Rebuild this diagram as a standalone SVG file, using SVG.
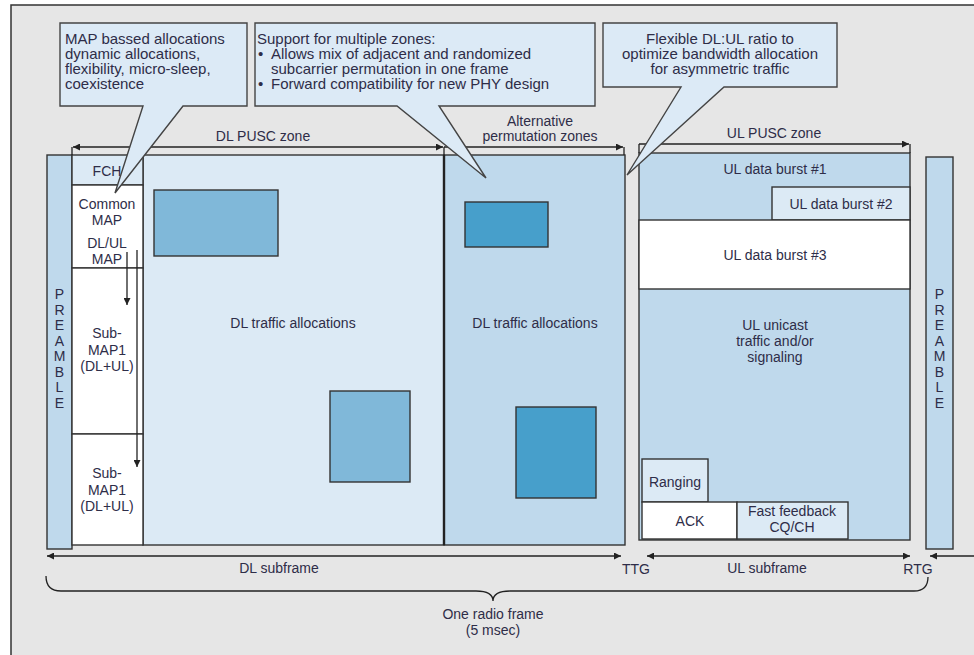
<svg xmlns="http://www.w3.org/2000/svg" width="974" height="655" viewBox="0 0 974 655">
  <defs>
    <marker id="ah" viewBox="0 0 10 10" refX="10" refY="5" markerWidth="9" markerHeight="7" markerUnits="userSpaceOnUse" orient="auto-start-reverse">
      <path d="M0,0 L10,5 L0,10 Z" fill="#222"/>
    </marker>
    <style>
      text { font-family: "Liberation Sans", Arial, sans-serif; font-size: 14px; fill: #2e2d48; }
      .c { text-anchor: middle; }
      .call { font-size: 15px; }
      .box { stroke: #333; stroke-width: 1.4; }
      .pale { fill: #dceaf5; }
      .mid { fill: #bfd9ec; }
      .white { fill: #ffffff; }
      .burstA { fill: #80b8d9; }
      .burstB { fill: #479fcb; }
      .dim { stroke: #222; stroke-width: 1.3; fill: none; }
      .bubble { fill: #dceaf6; stroke: #444; stroke-width: 1.4; }
    </style>
  </defs>

  <!-- page and frame -->
  <rect x="0" y="0" width="974" height="655" fill="#ffffff"/>
  <rect x="11" y="5" width="970" height="660" fill="#e6e6e6" stroke="#333" stroke-width="1.5"/>

  <!-- downlink preamble -->
  <g id="preamble-dl">
    <rect class="box mid" x="47" y="155" width="25" height="394"/>
    <text class="c" x="59.5" y="299">P</text>
    <text class="c" x="59.5" y="314.5">R</text>
    <text class="c" x="59.5" y="330">E</text>
    <text class="c" x="59.5" y="345.5">A</text>
    <text class="c" x="59.5" y="361">M</text>
    <text class="c" x="59.5" y="376.5">B</text>
    <text class="c" x="59.5" y="392">L</text>
    <text class="c" x="59.5" y="407.5">E</text>
  </g>

  <!-- DL PUSC zone -->
  <g id="dl-pusc-zone">
    <rect class="box pale" x="143" y="155" width="301" height="390"/>
    <rect class="box burstA" x="154" y="190" width="124" height="66"/>
    <rect class="box burstA" x="330" y="391" width="80" height="91"/>
    <text class="c" x="293" y="328">DL traffic allocations</text>
  </g>

  <!-- MAP column -->
  <g id="map-column">
    <rect class="box pale" x="72" y="155" width="71" height="30"/>
    <text class="c" x="107" y="176">FCH</text>
    <rect class="box white" x="72" y="185" width="71" height="83"/>
    <text class="c" x="107" y="209">Common</text>
    <text class="c" x="107" y="225">MAP</text>
    <text class="c" x="107" y="248">DL/UL</text>
    <text class="c" x="107" y="264">MAP</text>
    <rect class="box white" x="72" y="268" width="71" height="166"/>
    <text class="c" x="107" y="338">Sub-</text>
    <text class="c" x="107" y="355">MAP1</text>
    <text class="c" x="107" y="371">(DL+UL)</text>
    <rect class="box white" x="72" y="434" width="71" height="111"/>
    <text class="c" x="107" y="478">Sub-</text>
    <text class="c" x="107" y="495">MAP1</text>
    <text class="c" x="107" y="511">(DL+UL)</text>
  </g>

  <!-- alternative permutation zone -->
  <g id="alt-zone">
    <rect class="box mid" x="444" y="155" width="181" height="390"/>
    <rect class="box burstB" x="465" y="202" width="83" height="45"/>
    <rect class="box burstB" x="516" y="407" width="80" height="91"/>
    <text class="c" x="535" y="328">DL traffic allocations</text>
  </g>
  <line x1="444" y1="155" x2="444" y2="545" stroke="#222" stroke-width="2.4"/>

  <!-- UL PUSC zone -->
  <g id="ul-zone">
    <rect class="box mid" x="639" y="153" width="271" height="387"/>
    <text class="c" x="775" y="174">UL data burst #1</text>
    <rect class="box pale" x="772" y="187" width="138" height="33"/>
    <text class="c" x="841" y="209">UL data burst #2</text>
    <rect class="box white" x="639" y="220" width="271" height="69"/>
    <text class="c" x="775" y="260">UL data burst #3</text>
    <text class="c" x="775" y="330">UL unicast</text>
    <text class="c" x="775" y="346">traffic and/or</text>
    <text class="c" x="775" y="362">signaling</text>
  </g>
  <g id="ranging">
    <rect class="box pale" x="642" y="459" width="66" height="43"/>
    <text class="c" x="675" y="487">Ranging</text>
  </g>
  <g id="ack">
    <rect class="box white" x="642" y="502" width="95" height="37"/>
    <text class="c" x="690" y="526">ACK</text>
  </g>
  <g id="fast-feedback">
    <rect class="box pale" x="737" y="502" width="111" height="37"/>
    <text class="c" x="792" y="516">Fast feedback</text>
    <text class="c" x="792" y="532">CQ/CH</text>
  </g>

  <!-- uplink-side preamble -->
  <g id="preamble-ul">
    <rect class="box mid" x="926" y="157" width="27" height="392"/>
    <text class="c" x="939.5" y="299">P</text>
    <text class="c" x="939.5" y="314.5">R</text>
    <text class="c" x="939.5" y="330">E</text>
    <text class="c" x="939.5" y="345.5">A</text>
    <text class="c" x="939.5" y="361">M</text>
    <text class="c" x="939.5" y="376.5">B</text>
    <text class="c" x="939.5" y="392">L</text>
    <text class="c" x="939.5" y="407.5">E</text>
  </g>

  <!-- connectors: dimension lines, MAP pointers, frame brace -->
  <g id="connectors">
    <line class="dim" x1="72" y1="147" x2="72" y2="155"/>
    <line class="dim" x1="73" y1="147" x2="443" y2="147" marker-start="url(#ah)" marker-end="url(#ah)"/>
    <line class="dim" x1="444" y1="147" x2="444" y2="155"/>
    <line class="dim" x1="444" y1="147" x2="623" y2="147" marker-end="url(#ah)"/>
    <line class="dim" x1="624" y1="147" x2="624" y2="155"/>
    <line class="dim" x1="639" y1="144" x2="639" y2="153"/>
    <line class="dim" x1="639" y1="144" x2="909" y2="144" marker-end="url(#ah)"/>
    <line class="dim" x1="910" y1="144" x2="910" y2="153"/>

    <line class="dim" x1="127" y1="252" x2="127" y2="305" marker-end="url(#ah)"/>
    <line class="dim" x1="137" y1="250" x2="137" y2="467" marker-end="url(#ah)"/>

    <line class="dim" x1="47" y1="556" x2="621" y2="556" marker-start="url(#ah)" marker-end="url(#ah)"/>
    <line class="dim" x1="647" y1="556" x2="910" y2="556" marker-start="url(#ah)" marker-end="url(#ah)"/>
    <line class="dim" x1="974" y1="556" x2="930" y2="556" marker-end="url(#ah)"/>

    <path class="dim" d="M46,576 Q46,591 61,591 H476 Q493,591 493,601 Q493,591 510,591 H914 Q928,591 928,577"/>
  </g>

  <!-- dimension labels -->
  <text class="c" x="263" y="141">DL PUSC zone</text>
  <text class="c" x="540" y="126">Alternative</text>
  <text class="c" x="540" y="141">permutation zones</text>
  <text class="c" x="774" y="138">UL PUSC zone</text>
  <text class="c" x="279" y="573">DL subframe</text>
  <text class="c" x="636" y="574">TTG</text>
  <text class="c" x="767" y="573">UL subframe</text>
  <text class="c" x="918" y="574">RTG</text>
  <text class="c" x="493" y="619">One radio frame</text>
  <text class="c" x="493" y="635">(5 msec)</text>

  <!-- callouts -->
  <g id="callout-map">
    <path class="bubble" d="M60,23 H247 V106 H183 L115,193 L143,106 H60 Z"/>
    <text class="call" x="65" y="44">MAP bassed allocations</text>
    <text class="call" x="65" y="59">dynamic allocations,</text>
    <text class="call" x="65" y="74">flexibility, micro-sleep,</text>
    <text class="call" x="65" y="89">coexistence</text>
  </g>
  <g id="callout-zones">
    <path class="bubble" d="M255,23 H595 V106 H439 L486,178 L397,106 H255 Z"/>
    <text class="call" x="257" y="44">Support for multiple zones:</text>
    <text class="call" x="258" y="59">•</text>
    <text class="call" x="271" y="59">Allows mix of adjacent and randomized</text>
    <text class="call" x="271" y="74">subcarrier permutation in one frame</text>
    <text class="call" x="258" y="89">•</text>
    <text class="call" x="271" y="89">Forward compatibility for new PHY design</text>
  </g>
  <g id="callout-ratio">
    <path class="bubble" d="M603,23 H837 V87 H724 L627,175 L681,87 H603 Z"/>
    <text class="call c" x="720" y="44">Flexible DL:UL ratio to</text>
    <text class="call c" x="720" y="59">optimize bandwidth allocation</text>
    <text class="call c" x="720" y="74">for asymmetric traffic</text>
  </g>
</svg>
